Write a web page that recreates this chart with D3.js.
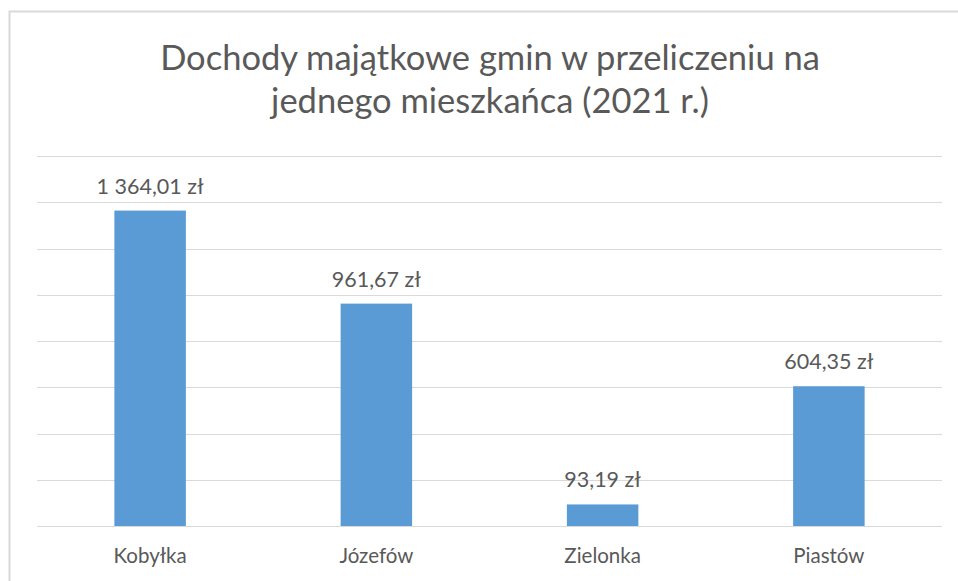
<!DOCTYPE html>
<html>
<head>
<meta charset="utf-8">
<script src="https://cdn.jsdelivr.net/npm/d3@7"></script>
<style>
  body { margin: 0; background: #ffffff; }
  text { font-family: Lato, "Open Sans", sans-serif; fill: #595959; }
</style>
</head>
<body>
<div id="chart"></div>
<script>
// Chart data
var categories = ["Kobyłka", "Józefów", "Zielonka", "Piastów"];
var values = [1364.01, 961.67, 93.19, 604.35];
var gridTicks = [0, 200, 400, 600, 800, 1000, 1200, 1400, 1600];
var titleLines = ["Dochody majątkowe gmin w przeliczeniu na", "jednego mieszkańca (2021 r.)"];

var svgWidth = 958;
var svgHeight = 581;

var margin = { top: 156, right: 16, bottom: 55, left: 37 };
var width = svgWidth - margin.left - margin.right;
var height = svgHeight - margin.top - margin.bottom;

var svg = d3.select("#chart")
    .append("svg")
    .attr("width", svgWidth)
    .attr("height", svgHeight);

// chart area border (runs off the right and bottom of the window)
svg.append("rect")
    .attr("x", 9.5)
    .attr("y", 11.5)
    .attr("width", 1000)
    .attr("height", 1000)
    .attr("fill", "#ffffff")
    .attr("stroke", "#d9d9d9")
    .attr("stroke-width", 2);

// Title
svg.append("g")
    .selectAll("text")
    .data(titleLines)
    .enter()
    .append("text")
    .attr("x", 490)
    .attr("y", (d, i) => 70 + i * 43)
    .attr("text-anchor", "middle")
    .style("font-size", "34.5px")
    .text(d => d);

var chartGroup = svg.append("g")
    .attr("transform", `translate(${margin.left}, ${margin.top})`);

var xScale = d3.scaleBand()
    .domain(categories)
    .range([0, width])
    .paddingInner(0.684)
    .paddingOuter(0.342);

var yScale = d3.scaleLinear()
    .domain([0, 1600])
    .range([height, 0]);

// Gridlines
var gridAxis = d3.axisLeft(yScale)
    .tickValues(gridTicks)
    .tickSize(-width)
    .tickFormat("");

var grid = chartGroup.append("g").call(gridAxis);
grid.select(".domain").remove();
grid.selectAll("line")
    .attr("stroke", "#d9d9d9")
    .attr("stroke-width", 1)
    .attr("shape-rendering", "crispEdges");

// Bars
chartGroup.selectAll(".bar")
    .data(values)
    .enter()
    .append("rect")
    .attr("class", "bar")
    .attr("x", (d, i) => xScale(categories[i]))
    .attr("y", d => yScale(d))
    .attr("width", xScale.bandwidth())
    .attr("height", d => height - yScale(d))
    .attr("fill", "#5b9bd5");

// Data labels
var plLocale = d3.formatLocale({ decimal: ",", thousands: "\u00a0", grouping: [3], currency: ["", " zł"] });
var fmt = plLocale.format(",.2f");

chartGroup.selectAll(".label")
    .data(values)
    .enter()
    .append("text")
    .attr("class", "label")
    .attr("x", (d, i) => xScale(categories[i]) + xScale.bandwidth() / 2)
    .attr("y", d => yScale(d) - 17)
    .attr("text-anchor", "middle")
    .style("font-size", "21.5px")
    .text(d => fmt(d) + " zł");

// Category axis
var xAxis = d3.axisBottom(xScale).tickSize(0).tickPadding(22);
var xg = chartGroup.append("g")
    .attr("transform", `translate(0, ${height})`)
    .call(xAxis);
xg.select(".domain").remove();
xg.selectAll("text")
    .style("font-size", "20.5px")
    .style("font-family", "Lato, 'Open Sans', sans-serif")
    .attr("fill", "#595959");
</script>
</body>
</html>
